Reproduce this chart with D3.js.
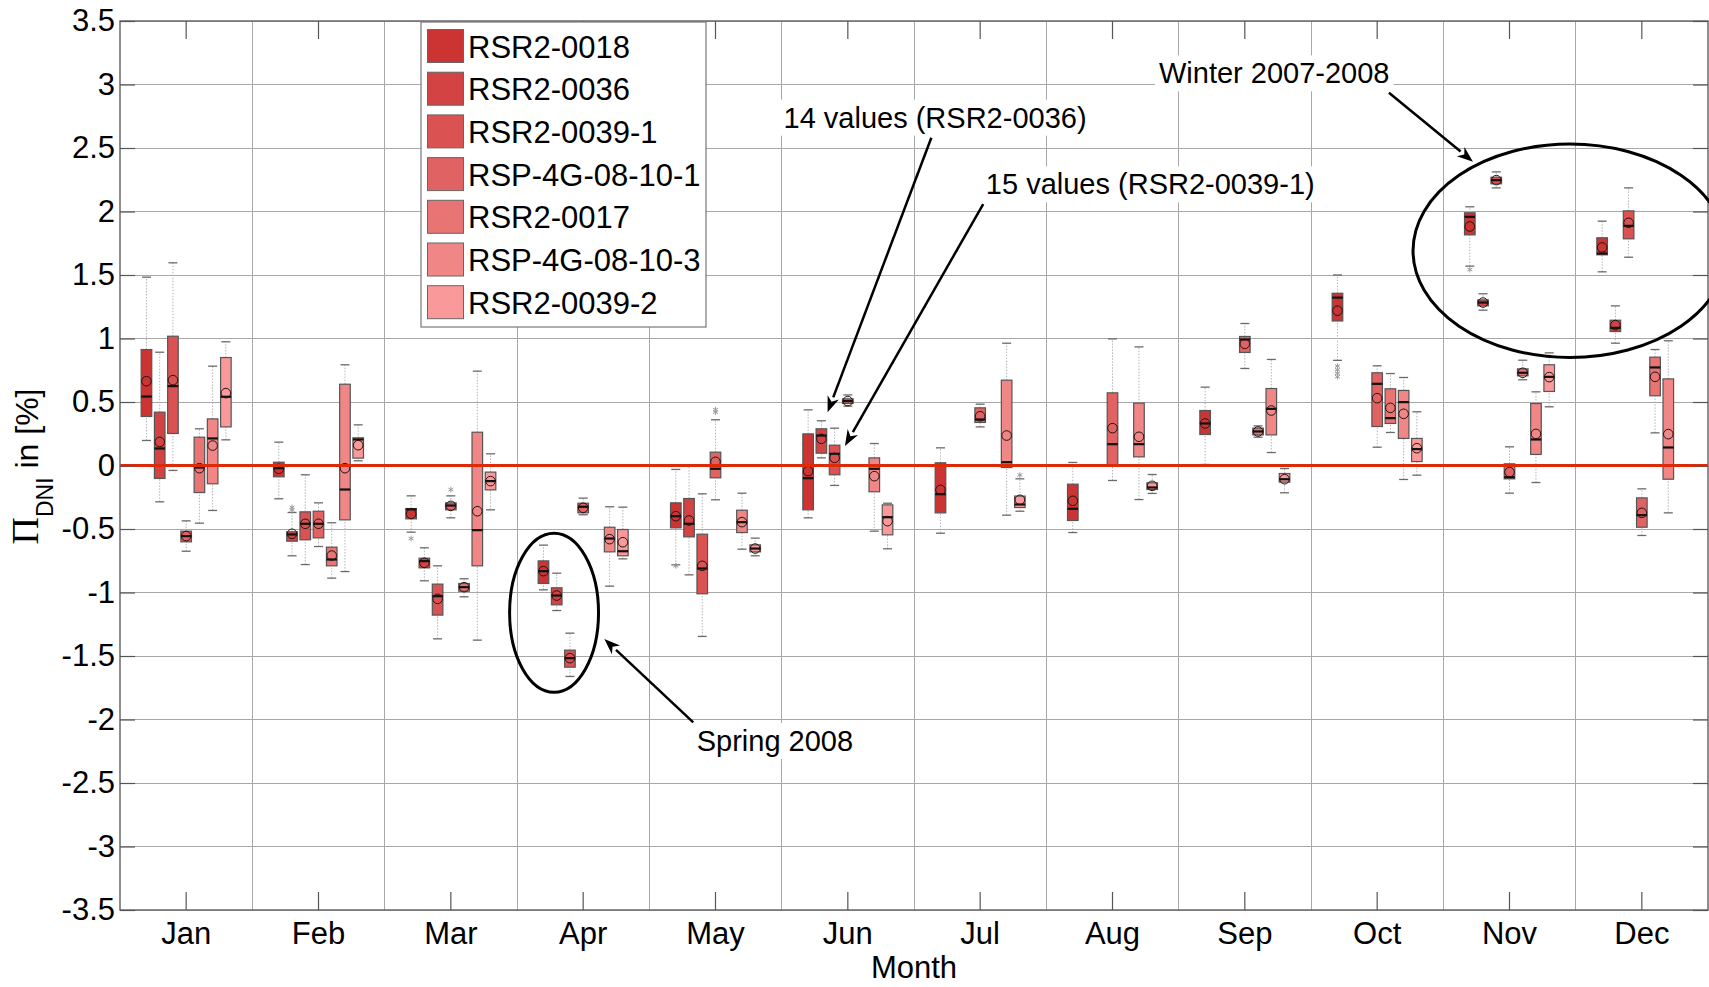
<!DOCTYPE html>
<html><head><meta charset="utf-8">
<script src="https://cdn.jsdelivr.net/npm/d3@7"></script>
<style>
html,body{margin:0;padding:0;background:#fff;}
svg{display:block;font-family:"Liberation Sans",Arial,sans-serif;}
</style></head><body>
<svg id="chart" width="1709" height="987"></svg>
<script>
// ---------------- DATA ----------------
const months = ["Jan","Feb","Mar","Apr","May","Jun","Jul","Aug","Sep","Oct","Nov","Dec"];
const seriesNames = ["RSR2-0018","RSR2-0036","RSR2-0039-1","RSP-4G-08-10-1","RSR2-0017","RSP-4G-08-10-3","RSR2-0039-2"];
const seriesColors = ["#cc3434","#d34343","#da5252","#e06262","#e87474","#f08686","#fa9999"];
const yTickValues = [-3.5,-3,-2.5,-2,-1.5,-1,-0.5,0,0.5,1,1.5,2,2.5,3,3.5];
const yTickLabels = ["-3.5","-3","-2.5","-2","-1.5","-1","-0.5","0","0.5","1","1.5","2","2.5","3","3.5"];

// per month: [whiskerLow, q1, median, q3, whiskerHigh, mean]  (null = no data)
const rsr2_0018 = [
  [0.197,0.386,0.543,0.913,1.483,0.664],
  [-0.262,-0.089,-0.021,0.026,0.184,-0.026],
  [-0.525,-0.42,-0.345,-0.339,-0.239,-0.381],
  [-0.979,-0.929,-0.832,-0.751,-0.627,-0.832],
  [-0.782,-0.491,-0.399,-0.294,-0.031,-0.399],
  [-0.412,-0.349,-0.1,0.249,0.438,-0.045],
  [-0.533,-0.373,-0.226,0.021,0.139,-0.192],
  [-0.528,-0.433,-0.341,-0.147,0.024,-0.278],
  [0.008,0.244,0.331,0.433,0.617,0.331],
  [0.828,1.138,1.322,1.356,1.5,1.219],
  [1.57,1.816,1.958,1.99,2.037,1.882],
  [1.525,1.659,1.669,1.793,1.924,1.717]
];
const rsr2_0036 = [
  [-0.286,-0.102,0.134,0.42,0.892,0.186],
  [-0.711,-0.596,-0.543,-0.522,-0.37,-0.538],
  [-0.908,-0.806,-0.753,-0.73,-0.648,-0.766],
  [-1.142,-1.097,-1.024,-0.963,-0.848,-1.024],
  [-0.861,-0.562,-0.459,-0.26,-0.005,-0.433],
  [0.06,0.097,0.236,0.289,0.352,0.21],
  null, null, null, null,
  [1.223,1.257,1.283,1.304,1.352,1.283],
  [0.963,1.055,1.084,1.144,1.257,1.105]
];
const rsr2_0039_1 = [
  [-0.039,0.252,0.625,1.018,1.596,0.672],
  [-0.78,-0.585,-0.459,-0.365,-0.073,-0.459],
  [-1.365,-1.178,-1.029,-0.934,-0.79,-1.05],
  [-1.661,-1.588,-1.517,-1.454,-1.32,-1.517],
  [-1.346,-1.01,-0.811,-0.541,-0.223,-0.79],
  [-0.157,-0.073,0.092,0.16,0.294,0.06],
  null, null, null, null,
  [2.186,2.218,2.247,2.27,2.312,2.247],
  [1.64,1.785,1.887,2.005,2.186,1.911]
];
const rsp_4g_08_10_1 = [
  [-0.675,-0.601,-0.556,-0.517,-0.436,-0.556],
  [-0.638,-0.57,-0.459,-0.36,-0.294,-0.459],
  [-0.412,-0.349,-0.315,-0.294,-0.239,-0.318],
  [-0.388,-0.373,-0.325,-0.297,-0.257,-0.333],
  [-0.27,-0.097,-0.026,0.105,0.36,0.029],
  [0.467,0.488,0.507,0.525,0.556,0.507],
  [0.304,0.339,0.362,0.454,0.483,0.388],
  [-0.118,0.0,0.168,0.572,0.997,0.294],
  [0.764,0.89,0.992,1.016,1.118,0.958],
  [0.144,0.307,0.643,0.73,0.785,0.53],
  [-0.218,-0.105,-0.092,0.013,0.147,-0.052],
  [-0.551,-0.486,-0.391,-0.255,-0.184,-0.373]
];
const rsr2_0017 = [
  [-0.454,-0.213,-0.016,0.223,0.289,-0.021],
  [-0.887,-0.79,-0.74,-0.643,-0.451,-0.709],
  [-1.034,-0.99,-0.958,-0.929,-0.892,-0.958],
  null, null, null, null, null,
  [0.223,0.241,0.268,0.294,0.312,0.268],
  [0.26,0.331,0.373,0.604,0.724,0.454],
  [0.675,0.706,0.73,0.761,0.829,0.73],
  [0.257,0.549,0.772,0.853,0.913,0.698]
];
const rsp_4g_08_10_3 = [
  [-0.354,-0.144,0.213,0.367,0.782,0.157],
  [-0.835,-0.428,-0.189,0.64,0.793,-0.021],
  [-1.375,-0.79,-0.509,0.262,0.743,-0.36],
  [-0.95,-0.68,-0.575,-0.486,-0.325,-0.58],
  [-0.659,-0.528,-0.446,-0.352,-0.218,-0.446],
  [-0.517,-0.207,-0.026,0.06,0.173,-0.084],
  [-0.391,-0.016,0.026,0.672,0.963,0.236],
  [-0.268,0.068,0.168,0.491,0.934,0.226],
  [0.102,0.241,0.446,0.606,0.835,0.433],
  [-0.11,0.213,0.499,0.591,0.693,0.407],
  [-0.134,0.087,0.205,0.488,0.58,0.249],
  [-0.373,-0.108,0.142,0.682,0.982,0.247]
];
const rsr2_0039_2 = [
  [0.202,0.304,0.541,0.85,0.974,0.57],
  [0.037,0.058,0.205,0.218,0.32,0.16],
  [-0.349,-0.192,-0.123,-0.052,0.092,-0.123],
  [-0.735,-0.711,-0.675,-0.504,-0.328,-0.604],
  [-0.711,-0.68,-0.654,-0.625,-0.572,-0.654],
  [-0.656,-0.546,-0.407,-0.31,-0.297,-0.438],
  [-0.36,-0.331,-0.307,-0.241,-0.105,-0.27],
  [-0.22,-0.189,-0.173,-0.136,-0.071,-0.16],
  [-0.215,-0.131,-0.108,-0.063,-0.024,-0.108],
  [-0.076,0.031,0.129,0.213,0.423,0.136],
  [0.462,0.583,0.698,0.793,0.887,0.696],
  null
];
const seriesData = [rsr2_0018, rsr2_0036, rsr2_0039_1, rsp_4g_08_10_1, rsr2_0017, rsp_4g_08_10_3, rsr2_0039_2];

// outliers: [seriesIndex, month, value]
const outlierSeries = [1,1,0,3,3,3,0,6,0,0,0,0,0];
const outlierMonths = ["Feb","Feb","Mar","Mar","May","May","May","Jul","Oct","Oct","Oct","Oct","Nov"];
const outlierValues = [-0.33,-0.35,-0.575,-0.19,0.42,0.44,-0.79,-0.075,0.783,0.754,0.726,0.699,1.543];

// ---------------- CHART ----------------
const svg = d3.select("#chart");
const L = 120, R = 1708, T = 21, B = 910;
const x = d3.scaleBand().domain(months).range([L, R]).padding(0);
const xm = d3.scaleLinear().domain([0, 12]).range([L, R]);
const y = d3.scaleLinear().domain([-3.5, 3.5]).range([B, T]);
const bw = x.bandwidth();
const step = bw * 0.1, boxW = bw * 0.08, capW = bw * 0.068;
const cxOf = (si, m) => x(m) + bw / 2 + (si - 3) * step;

// grid
const grid = svg.append("g").attr("stroke", "#a8a8a8").attr("stroke-width", 1).attr("shape-rendering", "crispEdges");
grid.selectAll("line.h").data(yTickValues).join("line").attr("class","h")
  .attr("x1", L).attr("x2", R).attr("y1", d => y(d)).attr("y2", d => y(d));
grid.selectAll("line.v").data(d3.range(1, 12)).join("line").attr("class","v")
  .attr("x1", d => xm(d)).attr("x2", d => xm(d)).attr("y1", T).attr("y2", B);

// boxes
const boxes = svg.append("g");
seriesData.forEach((ser, si) => {
  ser.forEach((st, mi) => {
    if (!st) return;
    const [wLo, q1, med, q3, wHi, mean] = st;
    const cx = cxOf(si, months[mi]);
    const g = boxes.append("g");
    g.append("line").attr("x1", cx).attr("x2", cx).attr("y1", y(wLo)).attr("y2", y(q1))
      .attr("stroke", "#b5b5b5").attr("stroke-width", 1).attr("stroke-dasharray", "1.5,1.5");
    g.append("line").attr("x1", cx).attr("x2", cx).attr("y1", y(q3)).attr("y2", y(wHi))
      .attr("stroke", "#b5b5b5").attr("stroke-width", 1).attr("stroke-dasharray", "1.5,1.5");
    [wLo, wHi].forEach(v => g.append("line").attr("x1", cx - capW/2).attr("x2", cx + capW/2)
      .attr("y1", y(v)).attr("y2", y(v)).attr("stroke", "#6a6a6a").attr("stroke-width", 1.3));
    g.append("rect").attr("x", cx - boxW/2).attr("width", boxW)
      .attr("y", y(q3)).attr("height", Math.max(1, y(q1) - y(q3)))
      .attr("fill", seriesColors[si]).attr("stroke", "#555").attr("stroke-width", 1.2);
    g.append("line").attr("x1", cx - boxW/2).attr("x2", cx + boxW/2).attr("y1", y(med)).attr("y2", y(med))
      .attr("stroke", "#111").attr("stroke-width", 2.2);
    g.append("circle").attr("cx", cx).attr("cy", y(mean)).attr("r", 4.8)
      .attr("fill", "none").attr("stroke", "#2a1010").attr("stroke-width", 1);
  });
});
// outliers
const star = d3.symbol().type(d3.symbolAsterisk).size(22);
outlierValues.forEach((v, i) => {
  boxes.append("path").attr("d", star)
    .attr("transform", `translate(${cxOf(outlierSeries[i], outlierMonths[i])},${y(v)})`)
    .attr("stroke", "#9a9a9a").attr("stroke-width", 1).attr("fill", "none");
});

// zero line
svg.append("line").attr("x1", L).attr("x2", R).attr("y1", y(0)).attr("y2", y(0))
  .attr("stroke", "#dd2a08").attr("stroke-width", 3);

// frame
svg.append("rect").attr("x", L).attr("y", T).attr("width", R - L).attr("height", B - T)
  .attr("fill", "none").attr("stroke", "#6a6a6a").attr("stroke-width", 1.5);

// axes
function styleAxis(g) {
  g.select(".domain").remove();
  g.selectAll(".tick line").attr("stroke", "#555").attr("stroke-width", 1.2);
  g.selectAll(".tick text").attr("fill", "#000").attr("font-size", 31)
    .attr("font-family", '"Liberation Sans",Arial,sans-serif');
}
svg.append("g").attr("transform", `translate(${L},0)`)
  .call(d3.axisLeft(y).tickValues(yTickValues).tickFormat((d, i) => yTickLabels[i]).tickSize(-15).tickPadding(5))
  .call(styleAxis);
svg.append("g").attr("transform", `translate(${R},0)`)
  .call(d3.axisRight(y).tickValues(yTickValues).tickFormat("").tickSize(-15))
  .call(styleAxis);
svg.append("g").attr("transform", `translate(0,${B})`)
  .call(d3.axisBottom(x).tickSize(-18).tickPadding(12))
  .call(styleAxis);
svg.append("g").attr("transform", `translate(0,${T})`)
  .call(d3.axisTop(x).tickSize(-18).tickFormat(""))
  .call(styleAxis);

// axis titles
svg.append("text").attr("x", (L + R) / 2).attr("y", 978).attr("text-anchor", "middle")
  .attr("font-size", 31).text("Month");
const yl = svg.append("text").attr("transform", `translate(38,${(T + B) / 2 + 1}) rotate(-90)`)
  .attr("text-anchor", "middle").attr("font-size", 32);
yl.append("tspan").attr("font-family", '"Liberation Serif","DejaVu Serif",serif').attr("font-size", 38).text("Π");
yl.append("tspan").attr("font-size", 23).attr("dy", 15).text("DNI");
yl.append("tspan").attr("dy", -15).text(" in [%]");

// legend
const leg = svg.append("g");
leg.append("rect").attr("x", 421).attr("y", 22).attr("width", 285).attr("height", 305)
  .attr("fill", "#fff").attr("stroke", "#777").attr("stroke-width", 1.2);
seriesNames.forEach((n, i) => {
  const yy = 29.5 + i * 42.7;
  leg.append("rect").attr("x", 427.5).attr("y", yy).attr("width", 36).attr("height", 33)
    .attr("fill", seriesColors[i]).attr("stroke", "#666").attr("stroke-width", 1);
  leg.append("text").attr("x", 468).attr("y", yy + 28).attr("font-size", 31).text(n);
});

// annotations
const ann = svg.append("g");
function label(txt, mx, vy) {
  const t = ann.append("text").attr("x", xm(mx)).attr("y", y(vy)).attr("font-size", 29).text(txt);
  const bb = t.node().getBBox();
  ann.insert("rect", () => t.node()).attr("x", bb.x - 4).attr("y", bb.y - 2)
    .attr("width", bb.width + 8).attr("height", bb.height + 4).attr("fill", "#fff");
}
function arrow(m0, v0, m1, v1) {
  const x0 = xm(m0), y0 = y(v0), x1 = xm(m1), y1 = y(v1);
  const a = Math.atan2(y1 - y0, x1 - x0), len = 16, hw = 6;
  const bx = x1 - len * Math.cos(a), by = y1 - len * Math.sin(a);
  ann.append("line").attr("x1", x0).attr("y1", y0).attr("x2", bx).attr("y2", by)
    .attr("stroke", "#000").attr("stroke-width", 2.5);
  const pts = [[x1, y1],
    [bx + hw * Math.sin(a), by - hw * Math.cos(a)],
    [x1 - len * 0.7 * Math.cos(a), y1 - len * 0.7 * Math.sin(a)],
    [bx - hw * Math.sin(a), by + hw * Math.cos(a)]];
  ann.append("polygon").attr("points", pts.map(p => p.join(",")).join(" ")).attr("fill", "#000");
}
function ellipse(mc, vc, mr, vr) {
  ann.append("ellipse").attr("cx", xm(mc)).attr("cy", y(vc))
    .attr("rx", xm(mc + mr) - xm(mc)).attr("ry", y(vc - vr) - y(vc))
    .attr("fill", "none").attr("stroke", "#000").attr("stroke-width", 3);
}
label("14 values (RSR2-0036)", 5.014, 2.66);
arrow(6.131, 2.581, 5.347, 0.419);
label("15 values (RSR2-0039-1)", 6.543, 2.135);
arrow(6.523, 2.059, 5.478, 0.154);
label("Winter 2007-2008", 7.851, 3.009);
arrow(9.589, 2.935, 10.224, 2.392);
ellipse(10.957, 1.691, 1.186, 0.84);
ellipse(3.28, -1.16, 0.336, 0.626);
label("Spring 2008", 4.358, -2.248);
arrow(4.332, -2.022, 3.66, -1.366);
</script>
</body></html>
